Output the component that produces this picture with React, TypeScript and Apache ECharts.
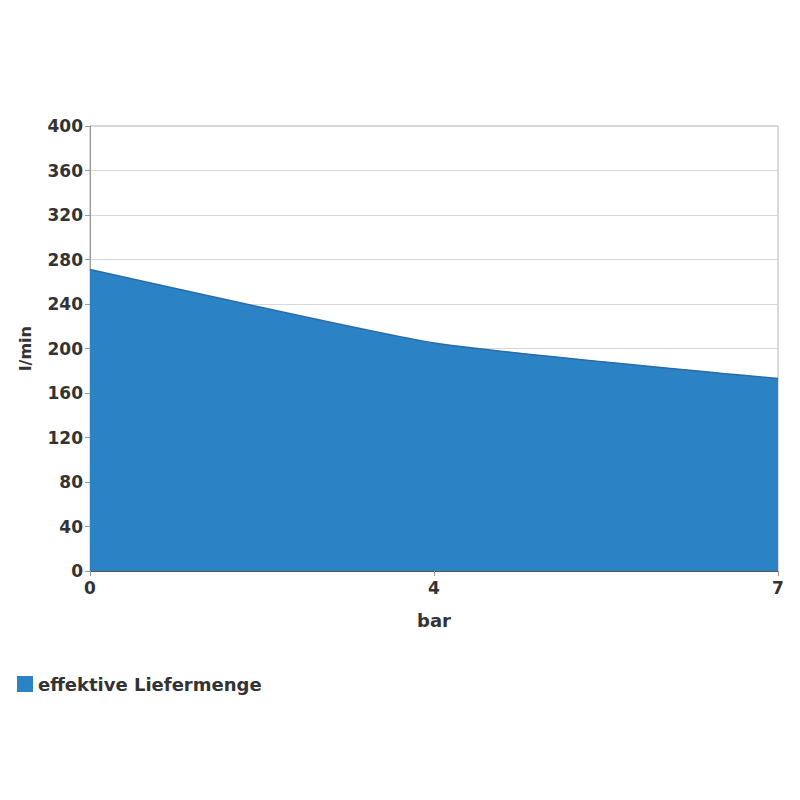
import React, { useEffect, useRef } from "react";
import * as echarts from "echarts";

const categories = ["0", "4", "7"];
const flowValues = [271, 205, 173];
const seriesName = "effektive Liefermenge";
const yAxisName = "l/min";
const xAxisName = "bar";

export default function App() {
  const ref = useRef<HTMLDivElement>(null);
  useEffect(() => {
    if (!ref.current) return;
    const chart = echarts.init(ref.current, undefined, { renderer: "svg" });
    const font = "DejaVu Sans, Verdana, sans-serif";
    chart.setOption({
      animation: false,
      grid: {
        left: 90,
        right: 22,
        top: 126,
        bottom: 229,
        show: true,
        borderColor: "#b5b5b5",
        borderWidth: 1,
        backgroundColor: "#ffffff",
      },
      legend: {
        data: [seriesName],
        left: 12,
        top: 670,
        icon: "rect",
        itemWidth: 16,
        itemHeight: 16,
        itemGap: 8,
        textStyle: { fontFamily: font, fontWeight: "bold", fontSize: 18, color: "#333" },
      },
      xAxis: {
        type: "category",
        data: categories,
        boundaryGap: false,
        name: xAxisName,
        nameLocation: "middle",
        nameGap: 40,
        nameTextStyle: { fontFamily: font, fontWeight: "bold", fontSize: 18, color: "#333" },
        axisLine: { show: true, lineStyle: { color: "#555", width: 1 } },
        axisTick: { show: true, length: 5, lineStyle: { color: "#999" } },
        axisLabel: { fontFamily: font, fontWeight: "bold", fontSize: 17, color: "#333", margin: 8 },
        splitLine: { show: false },
      },
      yAxis: {
        type: "value",
        min: 0,
        max: 400,
        interval: 40,
        name: yAxisName,
        nameLocation: "middle",
        nameGap: 57,
        nameRotate: 90,
        nameTextStyle: { fontFamily: font, fontWeight: "bold", fontSize: 16, color: "#333" },
        axisLine: { show: true, lineStyle: { color: "#999", width: 1 } },
        axisTick: { show: true, length: 5, lineStyle: { color: "#999" } },
        axisLabel: { fontFamily: font, fontWeight: "bold", fontSize: 17, color: "#333", margin: 7 },
        splitLine: { show: true, lineStyle: { color: "#d8d8d8", width: 1 } },
      },
      series: [
        {
          name: seriesName,
          type: "line",
          data: flowValues,
          smooth: 0.15,
          symbol: "none",
          lineStyle: { color: "#2a6da6", width: 1.5 },
          itemStyle: { color: "#2b83c6" },
          areaStyle: { color: "#2b83c6", opacity: 1 },
        },
      ],
    });
    return () => chart.dispose();
  }, []);
  return <div ref={ref} style={{ width: 800, height: 800, margin: -8 }} />;
}
